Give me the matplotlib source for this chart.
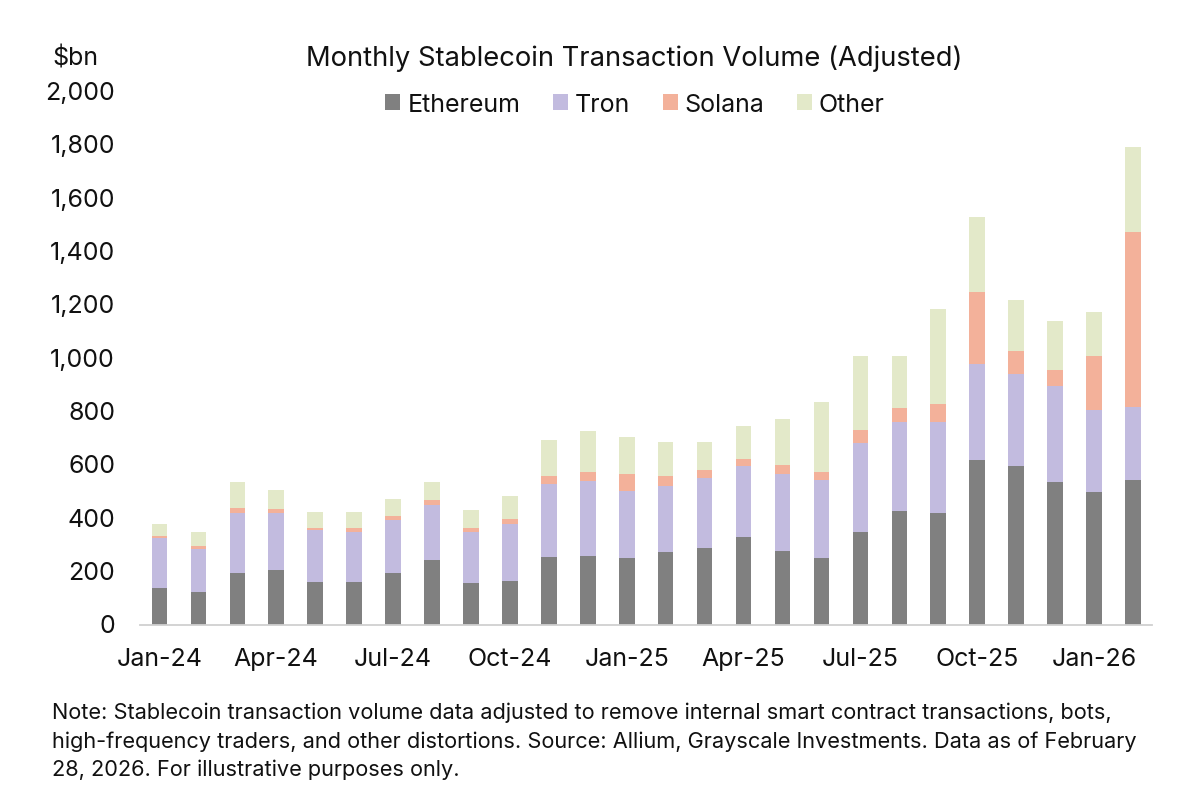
import matplotlib
matplotlib.use("Agg")
import matplotlib.pyplot as plt
from matplotlib.transforms import ScaledTranslation
import numpy as np

plt.rcParams['font.family'] = ['Inter', 'DejaVu Sans']

# Data ($bn)
months = ['Jan-24', 'Feb-24', 'Mar-24', 'Apr-24', 'May-24', 'Jun-24', 'Jul-24', 'Aug-24', 'Sep-24',
          'Oct-24', 'Nov-24', 'Dec-24', 'Jan-25', 'Feb-25', 'Mar-25', 'Apr-25', 'May-25', 'Jun-25',
          'Jul-25', 'Aug-25', 'Sep-25', 'Oct-25', 'Nov-25', 'Dec-25', 'Jan-26', 'Feb-26']
ethereum = [140, 122, 195, 207, 162, 162, 195, 243, 158, 165, 255, 260, 250,
            275, 288, 330, 277, 250, 347, 427, 420, 617, 597, 535, 497, 545]
tron = [185, 163, 225, 213, 193, 188, 200, 207, 192, 215, 273, 280, 253,
        248, 262, 265, 290, 293, 336, 335, 342, 361, 343, 360, 311, 273]
solana = [10, 13, 20, 15, 10, 15, 13, 17, 12, 17, 32, 33, 62,
          37, 30, 28, 33, 29, 47, 51, 68, 270, 87, 63, 200, 655]
other = [45, 52, 95, 70, 60, 57, 64, 68, 68, 88, 135, 154, 140,
         125, 105, 125, 172, 266, 278, 195, 355, 280, 191, 180, 167, 319]

series = [('Ethereum', ethereum, '#808080'),
          ('Tron', tron, '#c2bbdf'),
          ('Solana', solana, '#f3b19a'),
          ('Other', other, '#e3e9c9')]

note = ("Note: Stablecoin transaction volume data adjusted to remove internal smart contract transactions, bots,\n"
        "high-frequency traders, and other distortions. Source: Allium, Grayscale Investments. Data as of February\n"
        "28, 2026. For illustrative purposes only.")

fig = plt.figure(figsize=(12, 8.12), dpi=100)
# axes box in figure fractions, from the pixel positions of the axis
ax = fig.add_axes([140 / 1200, 1 - 626 / 812, (1152 - 140) / 1200, (626 - 92.6) / 812])

x = np.arange(len(months))
bottom = np.zeros(len(months))
for name, values, color in series:
    ax.bar(x, values, width=0.4, bottom=bottom, color=color, label=name)
    bottom += np.array(values)

ax.set_xlim(-0.5, 25.49)
ax.set_ylim(0, 2000)
ax.set_yticks(range(0, 2001, 200))
ax.set_yticklabels([f'{v:,}' for v in range(0, 2001, 200)])
ax.set_xticks(x[::3])
ax.set_xticklabels(months[::3])
ax.tick_params(axis='both', length=0, labelsize=18, colors='#111111')
ax.tick_params(axis='x', pad=16)
ax.tick_params(axis='y', pad=18)

# y labels sit a little above the gridline position in the original
for label in ax.get_yticklabels():
    label.set_transform(label.get_transform() + ScaledTranslation(0, 1.5 / 100, fig.dpi_scale_trans))

for side in ['top', 'right', 'left']:
    ax.spines[side].set_visible(False)
ax.spines['bottom'].set_color('#d0d0d0')
ax.spines['bottom'].set_linewidth(1.3)

fig.text(634 / 1200, 1 - 59 / 812, 'Monthly Stablecoin Transaction Volume (Adjusted)',
         ha='center', va='center', fontsize=19.7, color='#111111')
fig.text(52 / 1200, 1 - 58 / 812, '$bn', ha='left', va='center', fontsize=18, color='#111111')

fig.legend(loc='center', bbox_to_anchor=(635 / 1200, 1 - 105 / 812), ncol=4, frameon=False,
           fontsize=18, handlelength=0.6, handleheight=0.6, handletextpad=0.28, columnspacing=1.3,
           labelcolor='#111111')

fig.text(52 / 1200, 1 - 741.5 / 812, note, ha='left', va='center', fontsize=15.65, linespacing=1.48,
         color='#111111')

fig.savefig('out.png', dpi=100)
